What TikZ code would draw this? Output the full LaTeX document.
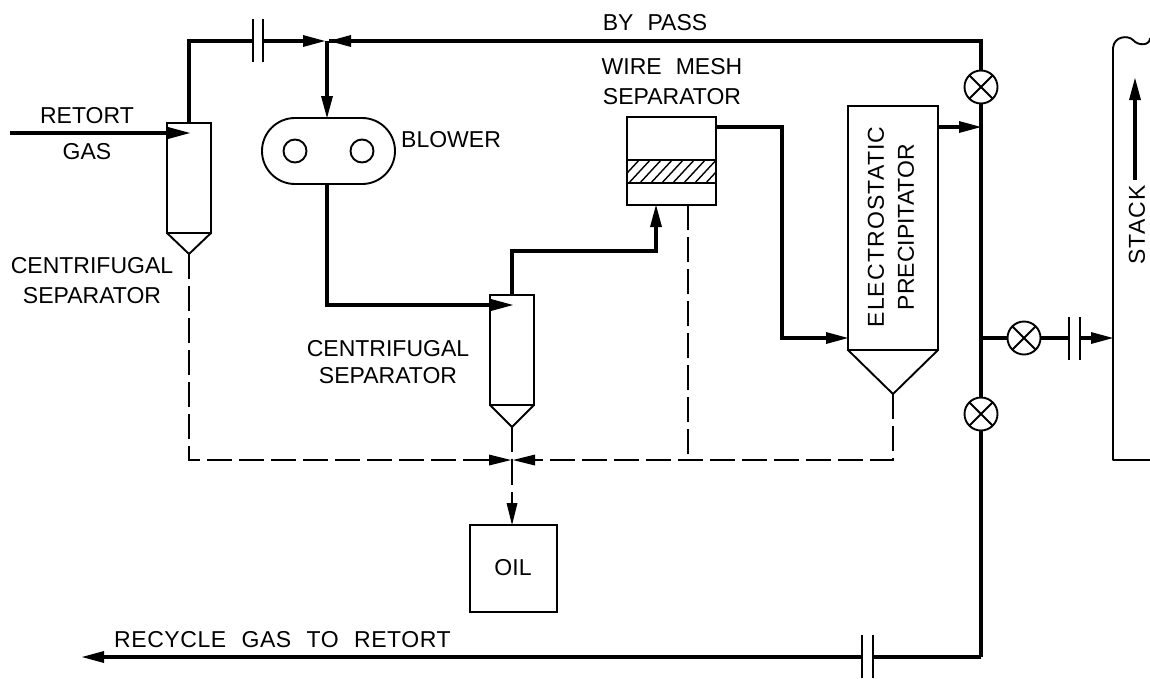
\documentclass[tikz,border=0pt]{standalone}
\usepackage{fontspec}
\setmainfont[WordSpace=2.2]{Liberation Sans}
\usetikzlibrary{arrows.meta,calc}
\tikzset{
  thickline/.style={line width=3.6pt,line join=miter},
  thinline/.style={line width=1.9pt},
  dashline/.style={line width=1.7pt,dash pattern=on 25pt off 7pt},
  flow/.style={thickline,-{Triangle[length=22pt,width=12pt,line width=0pt]}},
  dflow/.style={dashline,-{Triangle[length=22pt,width=11pt,line width=0pt]}},
  box/.style={draw,thinline,rectangle,anchor=north west,inner sep=0pt,outer sep=0pt},
  valve/.style={draw,thinline,circle,minimum size=33pt,inner sep=0pt,outer sep=0pt,fill=white},
  fan/.style={draw,thinline,circle,minimum size=23pt,inner sep=0pt},
  lbl/.style={font=\fontsize{23}{27}\selectfont,align=center,inner sep=0pt},
}
\begin{document}
\begin{tikzpicture}[x=1pt,y=-1pt]
\useasboundingbox (0,0) rectangle (1150,678);
\fill[white] (0,0) rectangle (1150,678);

% equipment
\node[box,minimum width=44pt,minimum height=110pt] (sepa) at (167,123) {};
\coordinate (sepatip) at (189,254);
\node[box,minimum width=133pt,minimum height=66pt,rounded corners=33pt] (blower) at (262,118) {};
\node[fan] (fan1) at (295,151) {};
\node[fan] (fan2) at (362,151) {};
\node[box,minimum width=44pt,minimum height=110pt] (sepb) at (490,295) {};
\coordinate (sepbtip) at (512,427);
\node[box,minimum width=89pt,minimum height=88pt] (mesh) at (627,117) {};
\node[box,minimum width=90pt,minimum height=244pt] (prec) at (848,106) {};
\coordinate (prectip) at (893,394);
\node[box,minimum width=87pt,minimum height=87pt] (oil) at (470,525) {};

% cones
\foreach \n/\t in {sepa/sepatip,sepb/sepbtip,prec/prectip}{
  \draw[thinline,line join=miter] (\n.south west) -- (\t) -- (\n.south east);
  \draw[line width=2.6pt] (\n.south west) -- (\n.south east);
}

% mesh band
\begin{scope}
  \clip (627,160) rectangle (716,183);
  \foreach \i in {0,...,11}{
    \draw[line width=1.4pt] (605+\i*11,185) -- (630+\i*11,158);
  }
\end{scope}
\draw[thinline] (627,160) -- (716,160);
\draw[line width=2.4pt] (627,183) -- (716,183);

% junctions
\coordinate (corner1) at (189,41);
\coordinate (jtop) at (327,41);
\coordinate (jtopl) at (325,41);
\coordinate (jtopr) at (329,41);
\coordinate (cornerR) at (981,41);
\node[valve] (v1) at (981,87) {};
\node[valve] (v2) at (981,414) {};
\node[valve] (v3) at (1024,338) {};
\coordinate (j327) at (327,305);
\coordinate (sepbin) at (513,305);
\coordinate (m1) at (512,251);
\coordinate (m2) at (656,251);
\coordinate (r1) at (782,127);
\coordinate (r2) at (782,338);
\coordinate (jR1) at (981,127);
\coordinate (jR2) at (981,338);
\coordinate (rcorner) at (981,657);
\coordinate (recycle) at (82,657);
\coordinate (stackin) at (1113,338);
\coordinate (gasin) at (10,133);
\coordinate (gastip) at (190,133);
\coordinate (c1a) at (253,41);
\coordinate (c1b) at (263,41);
\coordinate (c2a) at (1069,338);
\coordinate (c2b) at (1080,338);

% thick lines
\draw[thickline] (sepa.north -| corner1) -- (corner1) -- (c1a);
\draw[flow] (c1b) -- (jtopl);
\draw[thickline] (jtopr) -- (cornerR) -- (v1.north);
\draw[flow] ($(jtop)+(30,0)$) -- (jtopr);
\draw[thickline] (v1.south) -- (v2.north);
\draw[thickline] (v2.south) -- (rcorner);
\draw[flow] (rcorner) -- (recycle);
\draw[flow] (gasin) -- (gastip);
\draw[flow] (jtop) -- (blower.north -| jtop);
\draw[flow] (blower.south -| j327) -- (j327) -- (sepbin);
\draw[flow] (sepb.north) -- (m1) -- (m2) -- (mesh.south -| m2);
\draw[flow] (mesh.east |- r1) -- (r1) -- (r2) -- (prec.west |- r2);
\draw[flow] (prec.east |- jR1) -- (jR1);
\draw[thickline] (jR2) -- (v3.west);
\draw[thickline] (v3.east) -- (c2a);
\draw[flow] (c2b) -- (stackin);

% valve crosses
\foreach \v in {v1,v2,v3}{
  \draw[thinline] (\v.45) -- (\v.225);
  \draw[thinline] (\v.135) -- (\v.315);
}

% couplings
\draw[thinline] (253,19) -- (253,62);
\draw[thinline] (263,19) -- (263,62);
\draw[thinline] (1069,317) -- (1069,360);
\draw[thinline] (1080,317) -- (1080,360);
\fill[white] (861,650) rectangle (874,664);
\draw[thinline] (862,635) -- (862,678);
\draw[thinline] (873,635) -- (873,678);

% dashed
\coordinate (dL) at (189,460);
\coordinate (dC) at (512,460);
\coordinate (dM) at (688,460);
\coordinate (dR) at (893,460);
\draw[dashline] (sepatip) -- (dL) -- ($(dC)+(-4,0)$);
\draw[dflow] ($(dC)+(-30,0)$) -- ($(dC)+(-1,0)$);
\draw[dashline] (prectip) -- (dR) -- ($(dC)+(4,0)$);
\draw[dflow] ($(dC)+(30,0)$) -- ($(dC)+(1,0)$);
\draw[dashline] (mesh.south -| dM) -- (dM);
\draw[dashline] (sepbtip) -- (dC);
\draw[dflow] (dC) -- (oil.north -| dC);

% stack
\draw[thinline,line join=round] (1150,460) -- (1113,460) -- (1113,48)
  .. controls (1114,36) and (1128,35) .. (1133,40)
  .. controls (1138,46) and (1150,46) .. (1150,38);
\coordinate (sa) at (1135,180);
\coordinate (sb) at (1135,78);
\draw[flow] (sa) -- (sb);

% labels
\node[lbl] (t1) at (655,23) {BY PASS};
\node[lbl] (t2) at (87,116) {RETORT};
\node[lbl] (t3) at (87,152) {GAS};
\node[lbl] (t4) at (92,281) {CENTRIFUGAL\\[3pt]SEPARATOR};
\node[lbl,anchor=west] (t5) at (401,140) {BLOWER};
\node[lbl] (t6) at (672,82) {WIRE MESH\\[3pt]SEPARATOR};
\node[lbl] (t7) at (388,362) {CENTRIFUGAL\\SEPARATOR};
\node[lbl,rotate=90] (t8) at (891,227) {{\addfontfeature{LetterSpace=5}ELECTROSTATIC}\\[3pt]PRECIPITATOR};
\node[lbl,rotate=90] (t9) at (1137,225) {\addfontfeature{LetterSpace=5}STACK};
\node[lbl] (t10) at (513,568) {OIL};
\node[lbl,anchor=west] (t11) at (114,640) {\addfontfeature{LetterSpace=2.5}RECYCLE GAS TO RETORT};
\end{tikzpicture}
\end{document}
